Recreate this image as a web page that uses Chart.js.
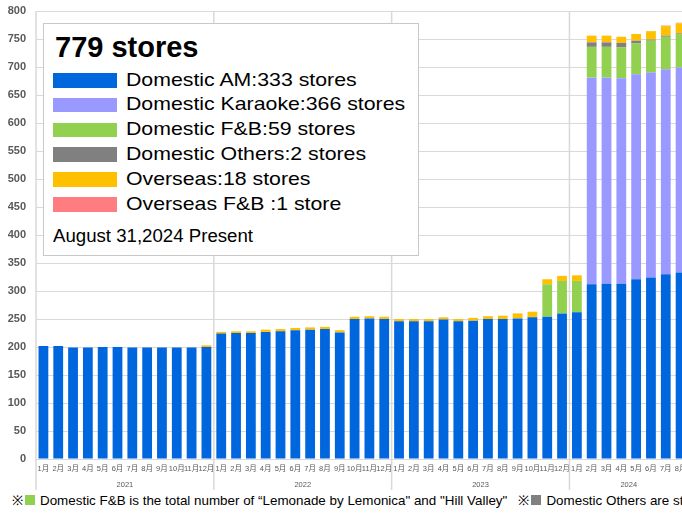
<html>
<head>
	<title>Store count</title>
	<style>
		html, body {
			margin: 0;
			padding: 0;
			background: #fff;
			overflow: hidden;
		}

		#app {
			position: relative;
			width: 682px;
			height: 514px;
			overflow: hidden;
			font-family: 'Liberation Sans', Arial, sans-serif;
		}

		#storesChart {
			position: absolute;
			left: 0;
			top: 0;
		}

		#legendBox {
			position: absolute;
			left: 43px;
			top: 23px;
			width: 374px;
			height: 231px;
			border: 1px solid #c9c9c9;
			background: #fff;
			color: #000;
		}

		#legendBox div {
			position: absolute;
			white-space: nowrap;
			line-height: 1;
			transform-origin: 0 0;
		}

		#note {
			position: absolute;
			left: 12px;
			top: 494px;
			white-space: nowrap;
			font-size: 13.4px;
			line-height: 1;
			color: #000;
		}

		#note .sq {
			display: inline-block;
			width: 10px;
			height: 10px;
			margin: 0 5px 0 2px;
		}
	</style>
</head>
<body>

	<div id="app">
		<canvas id="storesChart" width="689" height="493"></canvas>
		<div id="legendBox"></div>
		<div id="note">※<span class="sq" style="background:#92D050"></span>Domestic F&amp;B is the total number of “Lemonade by Lemonica" and "Hill Valley" &nbsp;&nbsp;※<span class="sq" style="background:#808080"></span>Domestic Others are stores</div>
	</div>

	<script src="https://cdn.jsdelivr.net/npm/chart.js@4.4.1/dist/chart.umd.min.js"></script>
	<script>
		const months = [
			'1月', '2月', '3月', '4月', '5月', '6月', '7月', '8月', '9月', '10月', '11月', '12月',
			'1月', '2月', '3月', '4月', '5月', '6月', '7月', '8月', '9月', '10月', '11月', '12月',
			'1月', '2月', '3月', '4月', '5月', '6月', '7月', '8月', '9月', '10月', '11月', '12月',
			'1月', '2月', '3月', '4月', '5月', '6月', '7月', '8月'
		];
		const years = ['2021', '2022', '2023', '2024'];

		const domesticAM = [
			202, 202, 199, 199, 200, 200, 199, 199, 199, 199, 199, 200,
			224, 225, 225, 227, 228, 230, 231, 232, 226, 250, 251, 250,
			246, 246, 246, 249, 246, 247, 250, 250, 251, 253, 254, 260,
			262, 312, 313, 313, 321, 324, 330, 333
		];
		const domesticKaraoke = [
			0, 0, 0, 0, 0, 0, 0, 0, 0, 0, 0, 0,
			0, 0, 0, 0, 0, 0, 0, 0, 0, 0, 0, 0,
			0, 0, 0, 0, 0, 0, 0, 0, 0, 0, 0, 0,
			0, 369, 368, 367, 366, 366, 366, 366
		];
		const domesticFB = [
			0, 0, 0, 0, 0, 0, 0, 0, 0, 0, 0, 0,
			0, 0, 0, 0, 0, 0, 0, 0, 0, 0, 0, 0,
			0, 0, 0, 0, 0, 0, 0, 0, 0, 0, 58, 58,
			56, 55, 55, 55, 55, 57, 58, 59
		];
		const domesticOthers = [
			0, 0, 0, 0, 0, 0, 0, 0, 0, 0, 0, 0,
			0, 0, 0, 0, 0, 0, 0, 0, 0, 0, 0, 0,
			0, 0, 0, 0, 0, 0, 0, 0, 0, 0, 0, 0,
			0, 8, 8, 8, 5, 2, 2, 2
		];
		const overseas = [
			0, 0, 0, 0, 0, 0, 0, 0, 0, 0, 0, 3,
			3, 3, 3, 4, 4, 4, 4, 4, 4, 4, 4, 4,
			4, 4, 4, 4, 4, 5, 5, 6, 9, 10, 9, 9,
			10, 12, 12, 11, 12, 15, 17, 18
		];
		const overseasFB = [
			0, 0, 0, 0, 0, 0, 0, 0, 0, 0, 0, 0,
			0, 0, 0, 0, 0, 0, 0, 0, 0, 0, 0, 0,
			0, 0, 0, 0, 0, 0, 0, 0, 0, 0, 0, 0,
			0, 0, 0, 0, 0, 0, 1, 1
		];

		const seriesLabels = [
			'Domestic AM:333 stores',
			'Domestic Karaoke:366 stores',
			'Domestic F&B:59 stores',
			'Domestic Others:2 stores',
			'Overseas:18 stores',
			'Overseas F&B :1 store'
		];
		const seriesColors = ['#0066DD', '#9999FF', '#92D050', '#808080', '#FFC000', '#FF7C80'];
		const totalLabel = '779 stores';
		const asOfLabel = 'August 31,2024 Present';

		// year groups: first index of each '1月' up to the next one
		var yearStarts = [];
		months.forEach(function (m, i) { if (m === '1月') yearStarts.push(i); });
		var yearMids = yearStarts.map(function (s, i) {
			var end = i + 1 < yearStarts.length ? yearStarts[i + 1] - 1 : months.length - 1;
			return (s + end) / 2;
		});

		var seriesData = [domesticAM, domesticKaraoke, domesticFB, domesticOthers, overseas, overseasFB];
		var ds = seriesData.map(function (d, i) {
			return {
				label: seriesLabels[i],
				data: d,
				backgroundColor: seriesColors[i],
				borderWidth: 0,
				barPercentage: 0.66,
				categoryPercentage: 1
			};
		});

		var grey = '#595959';
		var lineGrey = '#d9d9d9';

		// year separators run from the plot down through both label rows
		var yearLines = {
			id: 'yearLines',
			afterDraw: function (chart) {
				var x = chart.scales.x, x2 = chart.scales.x2, c = chart.ctx;
				var half = (x.getPixelForValue(1) - x.getPixelForValue(0)) / 2;
				c.save();
				c.strokeStyle = lineGrey;
				c.lineWidth = 1.5;
				yearStarts.forEach(function (i) {
					var px = x.getPixelForValue(i) - half;
					c.beginPath();
					c.moveTo(px, chart.chartArea.top);
					c.lineTo(px, x2.bottom - 3);
					c.stroke();
				});
				c.restore();
			}
		};

		var ctx = document.getElementById('storesChart').getContext('2d');
		var storesChart = new Chart(ctx, {
			type: 'bar',
			data: { labels: months, datasets: ds },
			plugins: [yearLines],
			options: {
				responsive: false,
				devicePixelRatio: 1,
				animation: false,
				layout: { padding: { top: 11, left: 8, right: 1, bottom: 0 } },
				plugins: {
					legend: { display: false },
					tooltip: { enabled: false }
				},
				scales: {
					x: {
						stacked: true,
						border: { display: false },
						grid: { display: false },
						afterFit: function (scale) { scale.height = 16; },
						ticks: {
							padding: -2.5,
							color: grey,
							autoSkip: false,
							maxRotation: 0,
							font: { family: "'Liberation Sans', 'Noto Sans CJK JP', sans-serif", size: 7.5 }
						}
					},
					x2: {
						type: 'linear',
						position: 'bottom',
						offset: false,
						bounds: 'data',
						min: -0.5,
						max: months.length - 0.5,
						border: { display: false },
						grid: { display: false, offset: false },
						afterBuildTicks: function (scale) {
							scale.ticks = yearMids.map(function (v) { return { value: v }; });
						},
						afterFit: function (scale) { scale.height = 18; },
						ticks: {
							padding: -3,
							color: grey,
							autoSkip: false,
							maxRotation: 0,
							font: { family: "'Liberation Sans', sans-serif", size: 7.5 },
							callback: function (v, i) { return years[i]; }
						}
					},
					y: {
						stacked: true,
						min: 0,
						max: 800,
						border: { display: false },
						grid: { color: lineGrey, drawTicks: false },
						afterFit: function (scale) {
							scale.width = 28;
							scale.paddingTop = 0;
							scale.paddingBottom = 0;
						},
						ticks: {
							stepSize: 50,
							padding: 10,
							color: grey,
							font: { family: "'Liberation Sans', sans-serif", size: 11, weight: 'bold' }
						}
					}
				}
			}
		});

		// legend box built from the series arrays
		var box = document.getElementById('legendBox');
		function addDiv(text, css) {
			var d = document.createElement('div');
			d.textContent = text;
			d.style.cssText = css;
			box.appendChild(d);
			return d;
		}
		addDiv(totalLabel, 'left:11px;top:9px;font-size:29px;font-weight:bold;');
		seriesLabels.forEach(function (lab, i) {
			var top = 49 + i * 24.8;
			addDiv('', 'left:9px;top:' + top + 'px;width:64px;height:14.5px;background:' + seriesColors[i] + ';');
			addDiv(lab, 'left:82px;top:' + (top - 3.5) + 'px;font-size:19px;transform:scaleX(1.12);');
		});
		addDiv(asOfLabel, 'left:9px;top:204px;font-size:17.5px;transform:scaleX(1.065);');
	</script>
</body>
</html>
